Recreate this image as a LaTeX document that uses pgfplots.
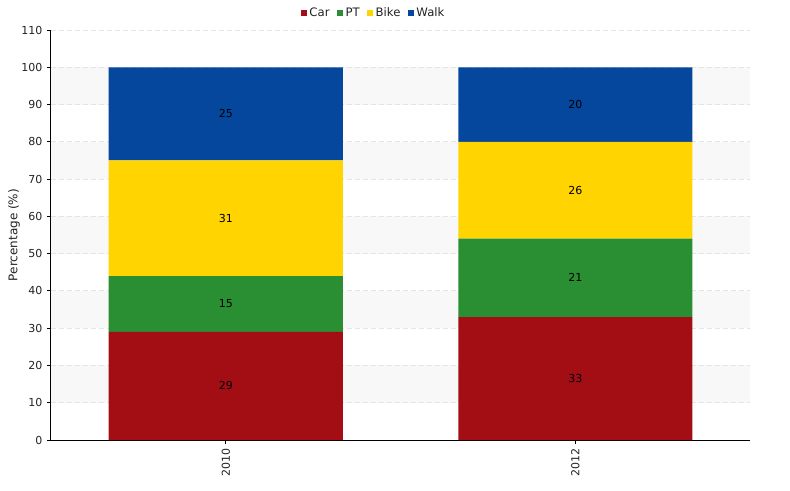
\documentclass[border=0pt]{standalone}
\usepackage{pgfplots}
\pgfplotsset{compat=1.18}
\usepackage{fontspec}
\setmainfont{DejaVu Sans}
\definecolor{carc}{HTML}{A20E14}
\definecolor{ptc}{HTML}{2A8E33}
\definecolor{bikec}{HTML}{FFD400}
\definecolor{walkc}{HTML}{04479C}
\definecolor{bandc}{HTML}{F8F8F8}
\definecolor{gridc}{HTML}{E4E4E4}
\definecolor{txt}{HTML}{222222}
\pgfplotsset{common/.style={
  at={(38.25pt,37.5pt)}, anchor=south west,
  scale only axis, width=524.25pt, height=307.5pt,
  xmin=-0.5, xmax=1.5, ymin=0, ymax=110}}
\begin{document}
\begin{tikzpicture}
\path[use as bounding box] (0,0) rectangle (592.5pt,367.5pt);
% background bands
\begin{axis}[common, hide axis]
\fill[bandc] (axis cs:-0.5,10) rectangle (axis cs:1.5,20);
\fill[bandc] (axis cs:-0.5,30) rectangle (axis cs:1.5,40);
\fill[bandc] (axis cs:-0.5,50) rectangle (axis cs:1.5,60);
\fill[bandc] (axis cs:-0.5,70) rectangle (axis cs:1.5,80);
\fill[bandc] (axis cs:-0.5,90) rectangle (axis cs:1.5,100);
\end{axis}
\begin{axis}[common,
  /pgf/number format/assume math mode=true,
  ybar stacked, bar width=175.5pt,
  xtick={0,1}, xticklabels={2010,2012},
  ytick={0,10,...,110},
  axis lines*=left,
  axis line style={line width=0.75pt, black},
  tick style={line width=0.75pt, black},
  tick align=outside, major tick length=3pt,
  xticklabel style={rotate=90, anchor=east, font=\fontsize{8.25}{9}\selectfont, text=txt},
  yticklabel style={font=\fontsize{8.25}{9}\selectfont, text=txt},
  ymajorgrids, grid style={dash pattern=on 3.5pt off 2.5pt, line width=0.75pt, gridc},
  ylabel={Percentage (\%)},
  ylabel style={at={(axis description cs:-0.053,0.5)}, anchor=center, font=\fontsize{9}{10}\selectfont, text=txt},
  legend style={draw=none, fill=none, at={(axis description cs:0.462,1.0415)}, anchor=center,
    font=\fontsize{8.75}{10}\selectfont, text=txt, inner sep=0pt,
    /tikz/every even column/.append style={column sep=3.5pt}},
  legend columns=-1,
  legend image code/.code={\fill[#1,draw=none] (0pt,-2.25pt) rectangle (4.5pt,2.25pt);},
]
\addplot[fill=carc, draw=none] coordinates {(0,29) (1,33)};
\addplot[fill=ptc, draw=none] coordinates {(0,15) (1,21)};
\addplot[fill=bikec, draw=none] coordinates {(0,31) (1,26)};
\addplot[fill=walkc, draw=none] coordinates {(0,25) (1,20)};
\legend{Car,PT,Bike,Walk}
\end{axis}
% segment labels at segment middles
\begin{axis}[common, hide axis]
\addplot[only marks, mark=none, nodes near coords, point meta=explicit symbolic,
  every node near coord/.style={anchor=center, font=\fontsize{8.25}{9}\selectfont, text=black}]
  coordinates {(0,14.5)[29] (0,36.5)[15] (0,59.5)[31] (0,87.5)[25]
               (1,16.5)[33] (1,43.5)[21] (1,67)[26] (1,90)[20]};
\end{axis}
\end{tikzpicture}
\end{document}
